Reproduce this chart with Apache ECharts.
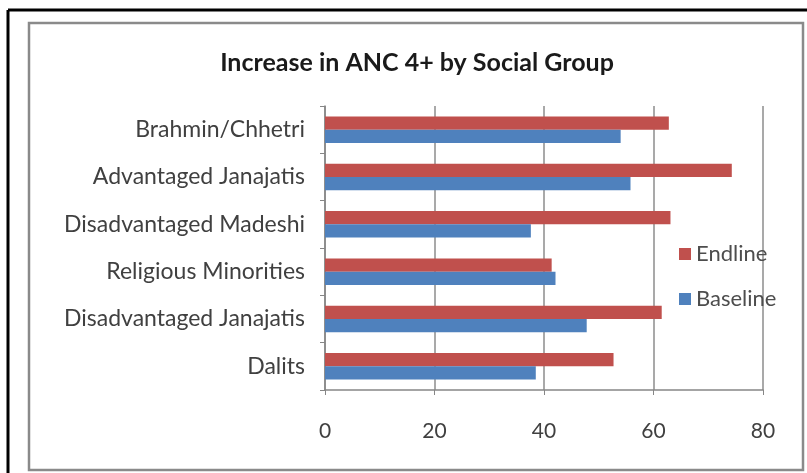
<!DOCTYPE html>
<html><head><meta charset="utf-8">
<script src="https://cdn.jsdelivr.net/npm/echarts@6/dist/echarts.min.js"></script>
<style>html,body{margin:0;padding:0;background:#fff}#c{width:807px;height:473px}</style>
</head><body><div id="c"></div>
<script>
const categories = ['Dalits','Disadvantaged Janajatis','Religious Minorities','Disadvantaged Madeshi','Advantaged Janajatis','Brahmin/Chhetri'];
const baseline = [38.5, 47.8, 42.1, 37.6, 55.8, 54.0];
const endline = [52.7, 61.5, 41.4, 63.1, 74.3, 62.8];
const xTicks = [0, 20, 40, 60, 80];

const chart = echarts.init(document.getElementById('c'), null, {renderer:'canvas'});
const FONT = 'Lato';
chart.setOption({
  animation: false,
  backgroundColor: '#fff',
  title: {
    text: 'Increase in ANC 4+ by Social Group',
    left: 412, top: 45, textAlign: 'center',
    textStyle: {fontFamily: FONT, fontWeight: 'bold', fontSize: 25, color: '#1a1a1a'}
  },
  legend: {
    data: ['Endline', 'Baseline'],
    orient: 'vertical', left: 674, top: 238, itemGap: 23, itemWidth: 12, itemHeight: 12, icon: 'rect',
    textStyle: {fontFamily: FONT, fontSize: 22, color: '#4d4d4d'}
  },
  grid: {left: 325, right: 44, top: 106, bottom: 83, containLabel: false},
  xAxis: {
    type: 'value', min: 0, max: 80, interval: 20,
    axisLine: {show: true, lineStyle: {color: '#868686', width: 1.5}},
    axisTick: {show: true, length: 5, lineStyle: {color: '#868686'}},
    axisLabel: {fontFamily: FONT, fontSize: 21, color: '#404040', margin: 31,
      formatter: v => xTicks.includes(v) ? String(v) : ''},
    splitLine: {show: true, lineStyle: {color: '#8c8c8c', width: 1.5}}
  },
  yAxis: {
    type: 'category', data: categories,
    axisLine: {show: true, lineStyle: {color: '#868686', width: 1.5}},
    axisTick: {show: true, length: 5, lineStyle: {color: '#868686'}},
    axisLabel: {fontFamily: FONT, fontSize: 23, color: '#404040', margin: 20}
  },
  series: [
    {name: 'Endline', type: 'bar', data: endline, barGap: '0%', barCategoryGap: '44%',
      itemStyle: {color: '#C0504D'}},
    {name: 'Baseline', type: 'bar', data: baseline, barGap: '0%', barCategoryGap: '44%',
      itemStyle: {color: '#4F81BD'}}
  ],
  graphic: [
    {type: 'rect', shape: {x: 29, y: 23, width: 774, height: 447},
      style: {fill: 'none', stroke: '#8a8a8a', lineWidth: 2.5}, z: 10},
    {type: 'line', shape: {x1: 8, y1: 10, x2: 807, y2: 10},
      style: {stroke: '#000', lineWidth: 3}, z: 10},
    {type: 'line', shape: {x1: 8, y1: 10, x2: 8, y2: 473},
      style: {stroke: '#000', lineWidth: 3}, z: 10}
  ]
});
</script></body></html>
